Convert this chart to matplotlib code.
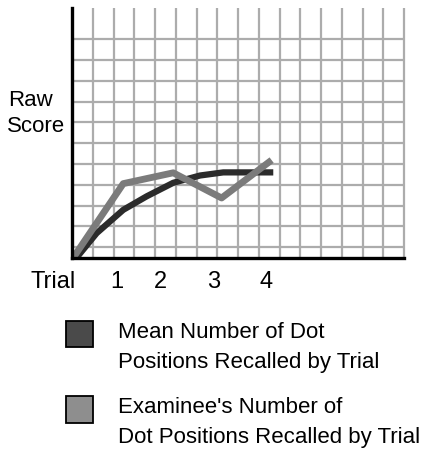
import matplotlib
matplotlib.use("Agg")
from matplotlib import pyplot as plt
from matplotlib.patches import Rectangle

plt.rcParams['font.family'] = ['Liberation Sans', 'DejaVu Sans']

W, H = 423, 451

# data, in grid cells
mean_x = [0.22, 1.19, 2.47, 3.6, 4.88, 6.17, 7.29, 9.7]
mean_y = [0, 1.18, 2.3, 2.95, 3.6, 3.95, 4.1, 4.1]
exam_x = [0.06, 2.47, 4.88, 7.21, 9.62]
exam_y = [0, 3.56, 4.08, 2.87, 4.69]

tick_pos = [2.17, 4.24, 6.84, 9.35]
tick_labels = ["1", "2", "3", "4"]

legend_labels = ["Mean Number of Dot\nPositions Recalled by Trial",
                 "Examinee's Number of\nDot Positions Recalled by Trial"]
legend_colors = ["#4a4a4a", "#8e8e8e"]


def fx(x):
    return x / W


def fy(y):
    return 1 - y / H


fig = plt.figure(figsize=(W / 100, H / 100), dpi=100)
ax = fig.add_axes([fx(72), fy(257.7), (404 - 72) / W, (257.7 - 8) / H])
ax.set_xlim(0, 16)
ax.set_ylim(0, 12)

# grid
ax.vlines(range(1, 17), 0, 12, color="#acacac", lw=1.6, zorder=1, clip_on=False)
ax.hlines([i + 0.5 for i in range(11)], 0, 16, color="#acacac", lw=1.6, zorder=1)

ax.plot(mean_x, mean_y, color="#2b2b2b", lw=4.5, solid_joinstyle="round",
        solid_capstyle="butt", zorder=3)
ax.plot(exam_x, exam_y, color="#7b7b7b", lw=4.9, solid_joinstyle="round",
        solid_capstyle="butt", zorder=4)

for s in ["top", "right"]:
    ax.spines[s].set_visible(False)
for s in ["left", "bottom"]:
    ax.spines[s].set_linewidth(2.4)
    ax.spines[s].set_color("black")
    ax.spines[s].set_zorder(5)
ax.set_xticks([])
ax.set_yticks([])

# axis texts
fig.text(fx(8), fy(106), "Raw", fontsize=16, va="baseline", ha="left")
fig.text(fx(7), fy(132.3), "Score", fontsize=16, va="baseline", ha="left")
fig.text(fx(30), fy(288.3), "Trial", fontsize=17, va="baseline", ha="left")
for p, lab in zip(tick_pos, tick_labels):
    ax.text(p, -1.48, lab, fontsize=17, va="baseline", ha="center", clip_on=False)

# legend
box_tops = [320.7, 396]
text_base = [338.3, 412.7]
for top, base, col, lab in zip(box_tops, text_base, legend_colors, legend_labels):
    fig.patches.append(Rectangle((fx(66), fy(top + 26.6)), 27.3 / W, 26.6 / H,
                                 transform=fig.transFigure, facecolor=col,
                                 edgecolor="black", lw=1.3))
    first, second = lab.split("\n")
    fig.text(fx(117.5), fy(base), first, fontsize=16, va="baseline", ha="left")
    fig.text(fx(117.5), fy(base + 30), second, fontsize=16, va="baseline", ha="left")

fig.savefig("out.png", dpi=100)
